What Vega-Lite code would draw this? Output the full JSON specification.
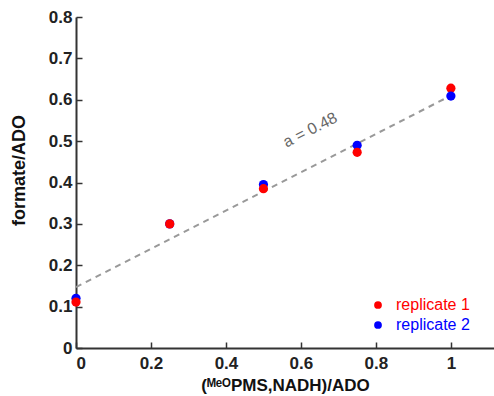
{
  "$schema": "https://vega.github.io/schema/vega-lite/v6.json",
  "width": 418,
  "height": 331,
  "autosize": {"type": "none"},
  "padding": {"left": 76, "top": 17, "right": 0, "bottom": 48},
  "background": "white",
  "config": {
    "view": {"stroke": null},
    "font": "Liberation Sans",
    "axis": {
      "domainColor": "#333",
      "domainWidth": 2,
      "tickColor": "#333",
      "tickWidth": 1.5,
      "labelFont": "Liberation Sans",
      "labelFontWeight": "bold",
      "labelFontSize": 17,
      "labelColor": "#222",
      "titleFont": "Liberation Sans",
      "titleFontWeight": "bold",
      "titleFontSize": 17,
      "titleColor": "#111",
      "grid": false
    }
  },
  "datasets": {
    "pts": [
      {"x": 0, "y": 0.12, "series": "replicate 2"},
      {"x": 0, "y": 0.111, "series": "replicate 1"},
      {"x": 0.25, "y": 0.30, "series": "replicate 2"},
      {"x": 0.25, "y": 0.30, "series": "replicate 1"},
      {"x": 0.5, "y": 0.395, "series": "replicate 2"},
      {"x": 0.5, "y": 0.385, "series": "replicate 1"},
      {"x": 0.75, "y": 0.49, "series": "replicate 2"},
      {"x": 0.75, "y": 0.473, "series": "replicate 1"},
      {"x": 1, "y": 0.628, "series": "replicate 1"},
      {"x": 1, "y": 0.609, "series": "replicate 2"}
    ],
    "fit": [
      {"x": 0, "y": 0.147},
      {"x": 1, "y": 0.61}
    ],
    "lbl": [
      {"x": 0.625, "y": 0.527, "text": "a = 0.48"}
    ]
  },
  "layer": [
    {
      "mark": {"type": "rule", "color": "#333", "strokeWidth": 2},
      "encoding": {"y": {"datum": 0.8, "type": "quantitative"}}
    },
    {
      "data": {"name": "fit"},
      "mark": {"type": "line", "color": "#999", "strokeWidth": 2, "strokeDash": [6, 5]},
      "encoding": {
        "x": {"field": "x", "type": "quantitative"},
        "y": {"field": "y", "type": "quantitative"}
      }
    },
    {
      "data": {"name": "lbl"},
      "mark": {"type": "text", "angle": -27, "fontSize": 16, "color": "#666", "font": "Liberation Sans"},
      "encoding": {
        "x": {"field": "x", "type": "quantitative"},
        "y": {"field": "y", "type": "quantitative"},
        "text": {"field": "text"}
      }
    },
    {
      "data": {"name": "pts"},
      "mark": {"type": "circle", "size": 85, "opacity": 1},
      "encoding": {
        "x": {
          "field": "x", "type": "quantitative",
          "scale": {"domain": [0, 1.115], "nice": false},
          "axis": {"values": [0, 0.2, 0.4, 0.6, 0.8, 1], "format": "~g", "tickSize": -6, "labelPadding": 13, "title": "(ᴹᵉᴼPMS,NADH)/ADO", "titlePadding": 6}
        },
        "y": {
          "field": "y", "type": "quantitative",
          "scale": {"domain": [0, 0.8], "nice": false},
          "axis": {"values": [0, 0.1, 0.2, 0.3, 0.4, 0.5, 0.6, 0.7, 0.8], "format": "~g", "tickSize": -6, "labelPadding": 10, "title": "formate/ADO", "titleFontSize": 18, "titleX": -48, "titleY": 153}
        },
        "color": {
          "field": "series", "type": "nominal",
          "scale": {"domain": ["replicate 1", "replicate 2"], "range": ["#ff0000", "#0000ff"]},
          "legend": {
            "title": null,
            "orient": "none",
            "legendX": 294,
            "legendY": 280,
            "symbolType": "circle",
            "symbolSize": 60,
            "labelFontSize": 16,
            "labelFont": "Liberation Sans",
            "labelColor": {"expr": "datum.value == 'replicate 1' ? '#ff0000' : '#0000ff'"},
            "rowPadding": 4,
            "labelOffset": 10
          }
        }
      }
    }
  ]
}
